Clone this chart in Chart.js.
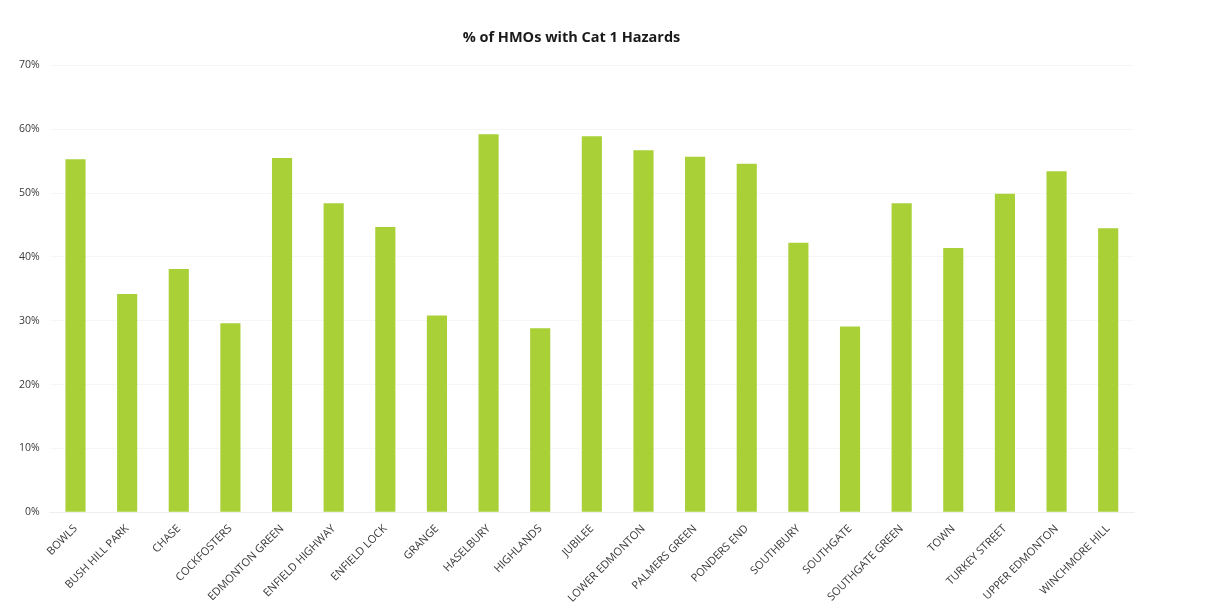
<!DOCTYPE html>
<html lang="en">
<head>
    <meta charset="UTF-8">
    <title>% of HMOs with Cat 1 Hazards</title>
    <script src="https://cdn.jsdelivr.net/npm/chart.js"></script>
    <style>
        body {
            margin: 0;
            background: #ffffff;
            overflow: hidden;
        }
        #wrap {
            position: relative;
            width: 1152px;
            height: 607px;
        }
    </style>
</head>
<body>
    <div id="wrap">
        <canvas id="hmoChart"></canvas>
    </div>

    <script>
        // wards and share of HMOs with category 1 hazards (%)
        const wards = [
            'BOWLS', 'BUSH HILL PARK', 'CHASE', 'COCKFOSTERS', 'EDMONTON GREEN',
            'ENFIELD HIGHWAY', 'ENFIELD LOCK', 'GRANGE', 'HASELBURY', 'HIGHLANDS',
            'JUBILEE', 'LOWER EDMONTON', 'PALMERS GREEN', 'PONDERS END', 'SOUTHBURY',
            'SOUTHGATE', 'SOUTHGATE GREEN', 'TOWN', 'TURKEY STREET', 'UPPER EDMONTON',
            'WINCHMORE HILL'
        ];
        const hazardPct = [
            55.3, 34.2, 38.1, 29.6, 55.5,
            48.4, 44.7, 30.8, 59.2, 28.8,
            58.9, 56.7, 55.7, 54.6, 42.2,
            29.1, 48.4, 41.4, 49.9, 53.4,
            44.5
        ];
        const yTicks = [0, 10, 20, 30, 40, 50, 60, 70];

        const font = "'Open Sans', 'DejaVu Sans', sans-serif";

        new Chart(document.getElementById('hmoChart'), {
            type: 'bar',
            data: {
                labels: wards,
                datasets: [{
                    data: hazardPct,
                    backgroundColor: '#a9d037',
                    barPercentage: 0.39,
                    categoryPercentage: 1
                }]
            },
            options: {
                responsive: true,
                maintainAspectRatio: false,
                animation: false,
                layout: {
                    padding: { left: 9, right: 18, top: 0, bottom: 0 }
                },
                plugins: {
                    legend: { display: false },
                    tooltip: { enabled: false },
                    title: {
                        display: true,
                        text: '% of HMOs with Cat 1 Hazards',
                        color: '#1a1a1a',
                        font: { family: font, size: 14.5, weight: 'bold' },
                        padding: { top: 29, bottom: 19 }
                    }
                },
                scales: {
                    x: {
                        grid: { display: false },
                        border: { display: true, color: '#eeeeee' },
                        ticks: {
                            color: '#3a3a3a',
                            font: { family: font, size: 11 },
                            minRotation: 45,
                            maxRotation: 45,
                            autoSkip: false,
                            padding: 2
                        }
                    },
                    y: {
                        min: 0,
                        max: 70,
                        afterBuildTicks: axis => {
                            axis.ticks = yTicks.map(v => ({ value: v }));
                        },
                        grid: {
                            color: 'rgba(0,0,0,0.035)',
                            drawTicks: false
                        },
                        border: { display: false },
                        ticks: {
                            color: '#3a3a3a',
                            font: { family: font, size: 10.5 },
                            padding: 10,
                            callback: v => v + '%'
                        }
                    }
                }
            }
        });
    </script>
</body>
</html>
